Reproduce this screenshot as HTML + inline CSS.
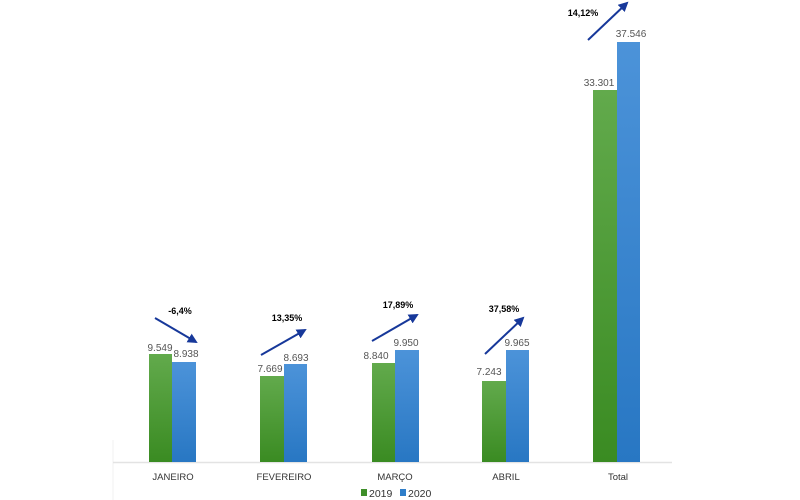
<!DOCTYPE html>
<html><head><meta charset="utf-8"><style>
html,body{margin:0;padding:0;background:#fff;}
svg{display:block;}
</style></head><body>
<svg width="800" height="500" viewBox="0 0 800 500" xmlns="http://www.w3.org/2000/svg">
<defs>
<linearGradient id="g" x1="0" y1="0" x2="0" y2="1">
<stop offset="0" stop-color="#62aa4c"/><stop offset="1" stop-color="#3a8b22"/></linearGradient>
<linearGradient id="b" x1="0" y1="0" x2="0" y2="1">
<stop offset="0" stop-color="#4c93d9"/><stop offset="1" stop-color="#2877c3"/></linearGradient>
<marker id="ah" viewBox="0 0 10 10" refX="8" refY="5" markerWidth="5" markerHeight="5" orient="auto">
<path d="M0,0 L10,5 L0,10 z" fill="#17389a"/></marker>
</defs>
<line x1="113" y1="440" x2="113" y2="500" stroke="#f0f0f0" stroke-width="1"/>
<line x1="113" y1="462.5" x2="672" y2="462.5" stroke="#e3e3e3" stroke-width="1.5"/>
<!-- bars -->
<rect x="149" y="354" width="23" height="108" fill="url(#g)"/>
<rect x="172" y="362" width="24" height="100" fill="url(#b)"/>
<rect x="260" y="376" width="24" height="86" fill="url(#g)"/>
<rect x="284" y="364" width="23" height="98" fill="url(#b)"/>
<rect x="372" y="363" width="23" height="99" fill="url(#g)"/>
<rect x="395" y="350" width="24" height="112" fill="url(#b)"/>
<rect x="482" y="381" width="24" height="81" fill="url(#g)"/>
<rect x="506" y="350" width="23" height="112" fill="url(#b)"/>
<rect x="593" y="90" width="24" height="372" fill="url(#g)"/>
<rect x="617" y="42" width="23" height="420" fill="url(#b)"/>
<!-- values -->
<g font-family="Liberation Sans, sans-serif" font-size="10" fill="#555" text-anchor="middle">
<text x="160" y="351">9.549</text>
<text x="186" y="357">8.938</text>
<text x="270" y="372">7.669</text>
<text x="296" y="361">8.693</text>
<text x="376" y="359">8.840</text>
<text x="406" y="346">9.950</text>
<text x="489" y="375">7.243</text>
<text x="517" y="346">9.965</text>
<text x="599" y="86">33.301</text>
<text x="631" y="37">37.546</text>
</g>
<!-- arrows -->
<g stroke="#17389a" stroke-width="2" fill="none" marker-end="url(#ah)">
<line x1="155" y1="318" x2="196" y2="342"/>
<line x1="261" y1="355" x2="305" y2="330"/>
<line x1="372" y1="341" x2="417" y2="315"/>
<line x1="485" y1="354" x2="523" y2="318"/>
<line x1="588" y1="40" x2="627" y2="3"/>
</g>
<g font-family="Liberation Sans, sans-serif" font-size="9" font-weight="bold" fill="#000" text-anchor="middle">
<text x="180" y="314">-6,4%</text>
<text x="287" y="321">13,35%</text>
<text x="398" y="308">17,89%</text>
<text x="504" y="312">37,58%</text>
<text x="583" y="16">14,12%</text>
</g>
<!-- categories -->
<g font-family="Liberation Sans, sans-serif" font-size="9.5" fill="#333" text-anchor="middle">
<text x="173" y="480">JANEIRO</text>
<text x="284" y="480">FEVEREIRO</text>
<text x="395" y="480">MARÇO</text>
<text x="506" y="480">ABRIL</text>
<text x="618" y="480">Total</text>
</g>
<!-- legend -->
<rect x="361" y="489" width="6" height="7" fill="#3f8f2a"/>
<rect x="400" y="489" width="6" height="7" fill="#2f7ec9"/>
<g font-family="Liberation Sans, sans-serif" font-size="10.5" fill="#333">
<text x="369" y="497">2019</text>
<text x="408" y="497">2020</text>
</g>
</svg>
</body></html>
